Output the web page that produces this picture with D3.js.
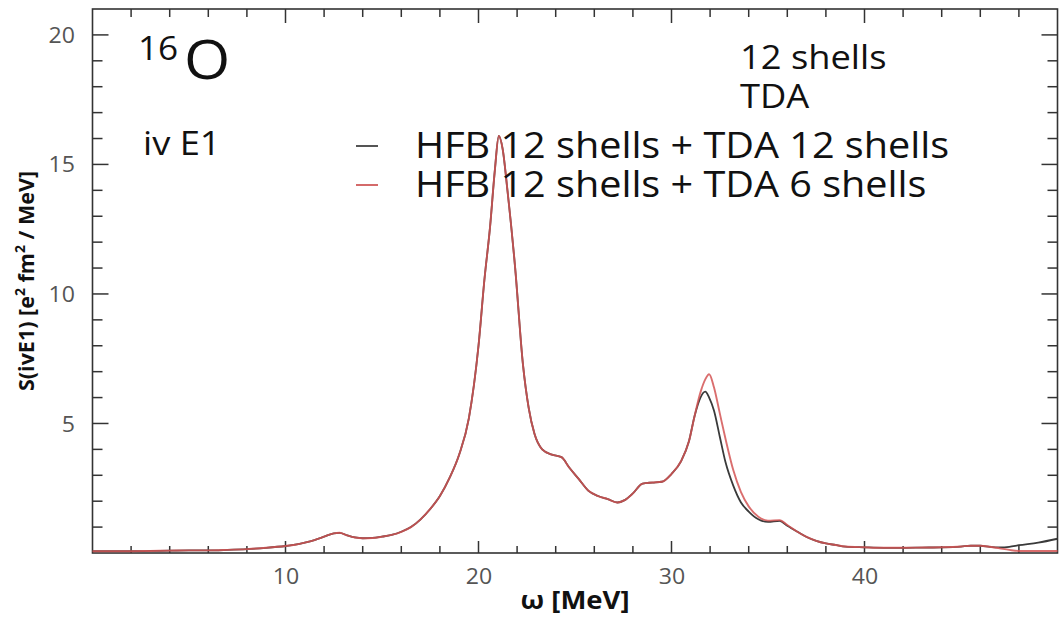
<!DOCTYPE html>
<html>
<head>
<meta charset="utf-8">
<script src="https://cdn.jsdelivr.net/npm/d3@7"></script>
<style>
  html, body { margin: 0; padding: 0; background: #fff; }
  svg { display: block; font-family: "Open Sans", "Noto Sans", sans-serif; }
</style>
</head>
<body>
<svg id="chart" width="1059" height="619"></svg>
<script>
// ---- data ----
const omega = [0,1,2,3,4,5,6,7,8,9,10,10.5,11,11.5,12,12.5,12.8,13.2,13.6,14,14.5,15,15.5,16,16.5,17,17.5,18,18.5,19,19.5,20,20.3,20.6,20.85,21.05,21.25,21.5,21.9,22.3,22.6,22.9,23.3,23.8,24.3,24.7,25.2,25.7,26.2,26.7,27.2,27.6,28,28.5,29,29.5,30,30.5,30.9,31.2,31.5,31.75,31.95,32.2,32.5,32.8,33.2,33.6,34,34.5,35,35.6,36,36.5,37,37.5,38,38.5,39,40,41,42,43,44,45,45.5,46,46.5,47,47.5,48,49,50];
const sTDA12 = [0.07,0.07,0.07,0.08,0.09,0.10,0.10,0.12,0.15,0.20,0.27,0.32,0.40,0.50,0.63,0.76,0.78,0.68,0.60,0.57,0.58,0.63,0.70,0.82,1.0,1.3,1.7,2.2,2.9,3.8,5.2,8.0,10.5,12.6,14.8,16.1,15.6,14.0,11.0,7.3,5.6,4.6,4.0,3.8,3.7,3.3,2.85,2.4,2.2,2.08,1.95,2.05,2.3,2.68,2.72,2.75,3.05,3.55,4.3,5.3,6.0,6.23,6.0,5.5,4.5,3.5,2.6,1.95,1.6,1.3,1.2,1.24,1.05,0.83,0.62,0.47,0.37,0.31,0.25,0.22,0.20,0.20,0.21,0.22,0.25,0.28,0.28,0.24,0.22,0.24,0.30,0.40,0.55];
const sTDA6 = [0.07,0.07,0.07,0.08,0.09,0.10,0.10,0.12,0.15,0.20,0.27,0.32,0.40,0.50,0.63,0.76,0.78,0.68,0.60,0.57,0.58,0.63,0.70,0.82,1.0,1.3,1.7,2.2,2.9,3.8,5.2,8.0,10.5,12.6,14.8,16.1,15.6,14.0,11.0,7.3,5.6,4.6,4.0,3.8,3.7,3.3,2.85,2.4,2.2,2.08,1.95,2.05,2.3,2.68,2.72,2.75,3.05,3.55,4.3,5.3,6.2,6.7,6.9,6.4,5.4,4.4,3.2,2.35,1.8,1.4,1.25,1.27,1.08,0.83,0.62,0.47,0.37,0.31,0.25,0.22,0.20,0.20,0.21,0.22,0.25,0.28,0.28,0.24,0.18,0.12,0.08,0.08,0.08];

const seriesNames = ["HFB 12 shells + TDA 12 shells", "HFB 12 shells + TDA 6 shells"];
const xMajorTicks = [10,20,30,40];
const yMajorTicks = [5,10,15,20];

// ---- layout ----
const svg = d3.select("#chart");
const L = 92.5, R = 1057.5, T = 9, B = 553;
const SX = 1.1; // horizontal stretch of the reference's lettering
const x = d3.scaleLinear().domain([0,50]).range([L,R]);
const y = d3.scaleLinear().domain([0,21]).range([B,T]);

const axisColor = "#333";
const tickColor = "#555";

function label(px, py, size, txt, opts = {}) {
  const g = svg.append("g").attr("transform", `translate(${px},${py}) scale(${SX},1)`);
  const t = g.append("text").attr("x",0).attr("y",0).style("font-size", size + "px")
    .attr("fill", opts.fill || "#111").attr("text-anchor", opts.anchor || "start");
  if (opts.bold) t.style("font-weight","bold");
  if (txt !== null) t.text(txt);
  return t;
}

// frame
svg.append("rect").attr("x",L).attr("y",T).attr("width",R-L).attr("height",B-T)
  .attr("fill","none").attr("stroke",axisColor).attr("stroke-width",1.6);

// x ticks (bottom and top, inward) minor every 2, major every 10
const xMinor = d3.range(2,50,2);
xMinor.forEach(v => {
  const major = v % 10 === 0;
  svg.append("line").attr("x1",x(v)).attr("x2",x(v)).attr("y1",B).attr("y2",B-(major?12:7))
    .attr("stroke",axisColor).attr("stroke-width",1.5);
  svg.append("line").attr("x1",x(v)).attr("x2",x(v)).attr("y1",T).attr("y2",T+(major?14:8))
    .attr("stroke",axisColor).attr("stroke-width",1.5);
});
const xAxis = d3.axisBottom(x).tickValues(xMajorTicks).tickSize(0).tickPadding(0).tickFormat(d3.format("d"));
const gxa = svg.append("g").attr("transform",`translate(0,${B})`).call(xAxis);
gxa.select(".domain").remove();
gxa.selectAll("text").attr("y",31).attr("dy",0).attr("fill",tickColor)
  .attr("transform",`scale(${SX},1)`)
  .style("font-size","21px").style("font-family","'Open Sans', sans-serif");

// y ticks (left and right, inward) minor every 1, major every 5
const yMinor = d3.range(1,21,1);
yMinor.forEach(v => {
  const major = v % 5 === 0;
  svg.append("line").attr("x1",L).attr("x2",L+(major?16:10)).attr("y1",y(v)).attr("y2",y(v))
    .attr("stroke",axisColor).attr("stroke-width",1.5);
  svg.append("line").attr("x1",R).attr("x2",R-(major?16:10)).attr("y1",y(v)).attr("y2",y(v))
    .attr("stroke",axisColor).attr("stroke-width",1.5);
});
const yAxis = d3.axisLeft(y).tickValues(yMajorTicks).tickSize(0).tickPadding(0).tickFormat(d3.format("d"));
const gya = svg.append("g").attr("transform",`translate(${L},0)`).call(yAxis);
gya.select(".domain").remove();
gya.selectAll("text").attr("x",-16).attr("dy","0.36em").attr("fill",tickColor)
  .attr("transform",`scale(${SX},1)`)
  .style("font-size","21px").style("font-family","'Open Sans', sans-serif");

// axis titles
label((L+R)/2, 609, 25, "ω [MeV]", {anchor:"middle", bold:true});

const yt = svg.append("text").attr("transform",`translate(34,281) rotate(-90)`)
  .attr("text-anchor","middle").style("font-weight","bold").style("font-size","21.5px").attr("fill","#111");
yt.append("tspan").text("S(ivE1) [e");
yt.append("tspan").attr("baseline-shift","super").style("font-size","14px").text("2");
yt.append("tspan").text(" fm");
yt.append("tspan").attr("baseline-shift","super").style("font-size","14px").text("2");
yt.append("tspan").text(" / MeV]");

// curves
const line = d3.line().x(d => x(d[0])).y(d => y(d[1])).curve(d3.curveMonotoneX);
const black = omega.map((w,i) => [w, sTDA12[i]]);
const red = omega.map((w,i) => [w, sTDA6[i]]);
svg.append("path").datum(black).attr("d",line).attr("fill","none")
  .attr("stroke","#3a3a3a").attr("stroke-width",1.8);
svg.append("path").datum(red).attr("d",line).attr("fill","none")
  .attr("stroke","#d45555").attr("stroke-width",1.9).attr("stroke-opacity",0.85);

// annotations
label(138, 60, 32, "16");
label(184, 79, 54, "O");

label(143, 155, 33, "iv E1");
label(740, 69, 33, "12 shells");
label(740, 108, 33, "TDA");

// legend
const legColors = ["#555", "#d46a6a"];
seriesNames.forEach((name,i) => {
  const ly = 146 + i*39;
  svg.append("line").attr("x1",356).attr("x2",378).attr("y1",ly).attr("y2",ly)
    .attr("stroke",legColors[i]).attr("stroke-width",2);
  label(415, ly+12, 36, name);
});
</script>
</body>
</html>
